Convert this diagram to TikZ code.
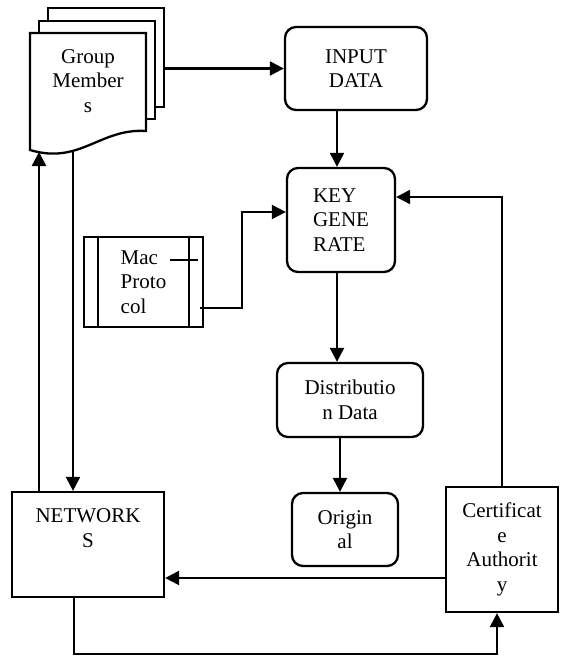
\documentclass[tikz,border=0pt]{standalone}
\usepackage{fontspec}
\setmainfont{Liberation Serif}
\usetikzlibrary{arrows.meta}
\begin{document}
\begin{tikzpicture}[x=1pt,y=-1pt,line width=2.3pt,
  lbl/.style={font=\fontsize{21}{24.5}\selectfont, inner sep=0pt},
  rbox/.style={draw, rounded corners=11pt, inner sep=0pt, align=center,
    font=\fontsize{21}{24.5}\selectfont},
  sbox/.style={draw, inner sep=0pt, align=center,
    font=\fontsize{21}{24.5}\selectfont},
  sheet/.style={draw, fill=white, inner sep=0pt},
  arr/.style={-{Triangle[length=14pt,width=14pt]}}]
\useasboundingbox (0,0) rectangle (560,656);

% stacked document sheets
\node[sheet, minimum width=116pt, minimum height=99pt] (back) at (106,57.5) {};
\node[sheet, minimum width=116pt, minimum height=98pt] (mid) at (97,70) {};
\draw[fill=white] (30,33) -- (146,33) -- (146,131)
  .. controls (100,128) and (80,165) .. (30,150) -- cycle;
% the base anchor of a multi-line label is the baseline of its last line
\node[lbl, align=center, anchor=base] (grp) at (88,112) {Group\\Member\\s};
\coordinate (docL) at (39,152);
\coordinate (docR) at (73,151);

% process boxes
\node[rbox, minimum width=142pt, minimum height=83pt] (input) at (356,68.5) {INPUT\\DATA};
\node[rbox, minimum width=108pt, minimum height=104pt, align=left] (key) at (341,220) {KEY\\GENE\\RATE};
\node[rbox, minimum width=146pt, minimum height=74pt] (dist) at (350,400) {Distributio\\n Data};
\node[rbox, minimum width=106pt, minimum height=73pt] (orig) at (345,529.5) {Origin\\al};
\node[sbox, minimum width=112pt, minimum height=125pt] (cert) at (502,549.5) {Certificat\\e\\Authorit\\y};

% network box, label near the top
\node[sbox, minimum width=152pt, minimum height=105pt] (net) at (88,544.5) {};
\node[lbl, align=center, anchor=base] (nettext) at (88,547) {NETWORK\\S};

% predefined process box
\node[sbox, minimum width=119pt, minimum height=90pt, align=left] (mac) at (143.5,282) {Mac\\Proto\\col};
\draw ([xshift=15pt]mac.north west) -- ([xshift=15pt]mac.south west);
\draw ([xshift=-15pt]mac.north east) -- ([xshift=-15pt]mac.south east);
\coordinate (stubA) at (170,260);
\coordinate (stubB) at (198,260);
\draw (stubA) -- (stubB);
\coordinate (macout) at (200,308);
\coordinate (certout) at ([yshift=-28.5pt]cert.west);

% connectors
\draw[arr] (back.east |- input.west) -- (input.west);
\draw[arr] ([xshift=-19pt]input.south) -- ([xshift=-19pt]input.south |- key.north);
\draw[arr] (macout) -- ++(42,0) |- ([yshift=8pt]key.west);
\draw[arr] (cert.north) |- ([yshift=23pt]key.east);
\draw[arr] ([xshift=-4pt]key.south) -- ([xshift=-4pt]key.south |- dist.north);
\draw[arr] ([xshift=-10pt]dist.south) -- ([xshift=-10pt]dist.south |- orig.north);
\draw[arr] (certout) -- (net.east |- certout);
\draw[arr] ([xshift=-14pt]net.south) -- ++(0,56) -| ([xshift=-5pt]cert.south);
\draw[arr] (net.north -| docL) -- (docL);
\draw[arr] (docR) -- (docR |- net.north);
\end{tikzpicture}
\end{document}
